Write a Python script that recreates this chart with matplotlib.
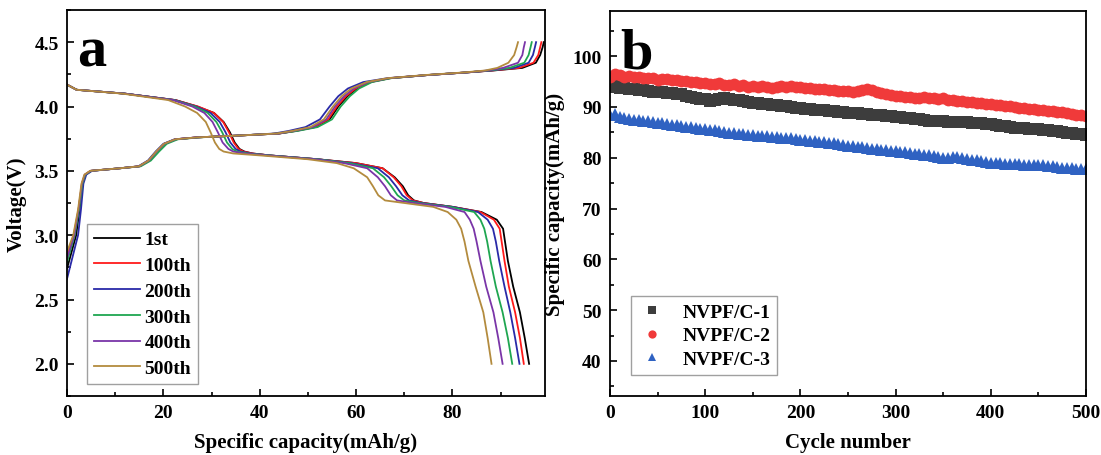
import matplotlib
matplotlib.use("Agg")
import matplotlib.pyplot as plt
from matplotlib.ticker import MultipleLocator, FormatStrFormatter

plt.rcParams['font.family'] = ['Liberation Serif', 'DejaVu Serif']
plt.rcParams['font.weight'] = 'bold'

# ---------------- Panel a data ----------------
CYCLE_LABELS = ['1st', '100th', '200th', '300th', '400th', '500th']
CYCLE_COLORS = ['#000000', '#ff1a1a', '#2a2aa8', '#1fa650', '#7a35a8', '#b38b3e']

# charge: start voltage per cycle + shared voltage grid
CHG_V0 = [2.74, 2.84, 2.66, 2.79, 2.82, 2.87]
CHG_V = [3.00, 3.20, 3.40, 3.47, 3.50, 3.52, 3.535, 3.58, 3.65, 3.71, 3.745, 3.76,
         3.775, 3.79, 3.81, 3.84, 3.90, 4.00, 4.08, 4.14, 4.19, 4.22, 4.245, 4.265,
         4.28, 4.30, 4.34, 4.40, 4.46, 4.50]
CHG_CAP_1 = [0, 1.9, 2.6, 3.2, 3.8, 5.0, 11.0, 15.0, 17.0, 18.6, 20.2, 22.5, 27.0, 36.0, 44.0,
             47.5, 51.5, 54.5, 56.3, 58.2, 60.2, 63.0, 67.0, 75.0, 83.0, 88.5, 94.5, 97.3, 98.2, 98.7, 98.95]
CHG_CAP_100 = [0, 1.4, 2.4, 3.1, 3.7, 4.9, 11.0, 15.0, 17.0, 18.6, 20.2, 22.5, 27.0, 36.0, 44.0,
               47.3, 51.3, 54.2, 56.0, 57.9, 59.9, 62.8, 67.0, 75.0, 83.0, 88.3, 93.8, 96.8, 97.8, 98.2, 98.45]
CHG_CAP_200 = [0, 2.3, 2.9, 3.4, 4.0, 5.2, 11.0, 14.8, 16.8, 18.4, 20.0, 22.3, 27.0, 36.0, 43.0,
               46.0, 49.5, 52.5, 54.5, 56.3, 58.3, 61.5, 66.5, 75.0, 83.0, 88.0, 92.8, 95.8, 96.7, 97.1, 97.35]
CHG_CAP_300 = [0, 1.6, 2.5, 3.2, 3.8, 5.0, 11.0, 15.3, 17.4, 19.1, 20.7, 23.0, 27.5, 36.0, 44.0,
               47.8, 52.0, 55.0, 56.8, 58.7, 60.6, 63.3, 67.3, 75.0, 83.0, 87.7, 91.8, 94.9, 95.8, 96.2, 96.45]
CHG_CAP_400 = [0, 1.5, 2.4, 3.1, 3.7, 4.9, 11.0, 15.0, 17.0, 18.6, 20.2, 22.5, 27.0, 36.0, 44.0,
               47.0, 51.0, 53.8, 55.6, 57.5, 59.5, 62.5, 66.8, 75.0, 83.0, 87.3, 90.5, 93.6, 94.5, 94.8, 95.05]
CHG_CAP_500 = [0, 1.3, 2.3, 3.0, 3.6, 4.8, 11.0, 14.9, 16.9, 18.5, 20.1, 22.4, 27.0, 36.0, 43.5,
               46.7, 50.5, 53.3, 55.2, 57.0, 59.0, 62.2, 66.5, 74.5, 82.5, 86.8, 89.3, 91.6, 92.8, 93.3, 93.6]

# discharge: shared voltage grid
DIS_V = [4.17, 4.13, 4.10, 4.05, 4.00, 3.95, 3.88, 3.80, 3.72, 3.67, 3.65, 3.635, 3.62, 3.59, 3.56,
         3.52, 3.45, 3.38, 3.31, 3.27, 3.25, 3.22, 3.18, 3.12, 3.05, 2.95, 2.80, 2.60, 2.40, 2.20, 2.00]
DIS_CAP_1 = [0, 2, 12, 22.5, 27, 30.5, 32.5, 33.8, 34.8, 35.8, 36.8, 38.5, 42, 52, 60, 65.5, 68, 69.7,
             70.8, 72, 74, 80, 86, 89.2, 90.5, 90.9, 91.5, 92.6, 94.0, 95.0, 95.9]
DIS_CAP_100 = [0, 2, 12, 22.5, 27.2, 30.5, 32.4, 33.6, 34.6, 35.6, 36.6, 38.5, 42, 52, 60, 65.5, 67.8,
               69.4, 70.5, 71.8, 74, 80, 85.8, 88.6, 89.8, 90.2, 90.8, 91.7, 93.0, 94.0, 94.8]
DIS_CAP_200 = [0, 2, 12, 22.3, 26.8, 29.8, 31.7, 32.9, 33.9, 35.0, 36.0, 38.0, 42, 52, 59, 64.5, 66.8,
               68.3, 69.6, 71, 73.5, 80, 85.3, 87.3, 88.4, 89.0, 89.7, 90.8, 92.0, 93.0, 93.9]
DIS_CAP_300 = [0, 2, 12, 22.2, 26.5, 29.2, 31.0, 32.2, 33.2, 34.3, 35.3, 37.5, 42, 52, 58.5, 63.5, 65.8,
               67.3, 68.6, 70, 73, 79.5, 84.5, 85.8, 86.6, 87.2, 87.9, 89.0, 90.4, 91.5, 92.4]
DIS_CAP_400 = [0, 2, 12, 22.0, 26, 28.5, 30.2, 31.3, 32.3, 33.5, 34.5, 36.8, 41.5, 51.5, 57.5, 62.3, 64.5,
               66, 67.2, 68.5, 72, 78.5, 82.5, 83.6, 84.4, 85.0, 85.8, 87.0, 88.5, 89.5, 90.4]
DIS_CAP_500 = [0, 2, 11.5, 21, 24.5, 27, 28.8, 29.8, 30.7, 31.6, 32.5, 34.5, 40, 50, 56, 59.5, 62.3,
               63.5, 64.6, 66, 70, 76, 79, 80.8, 81.8, 82.5, 83.3, 84.8, 86.4, 87.3, 88.1]

CHG_CAPS = [CHG_CAP_1, CHG_CAP_100, CHG_CAP_200, CHG_CAP_300, CHG_CAP_400, CHG_CAP_500]
DIS_CAPS = [DIS_CAP_1, DIS_CAP_100, DIS_CAP_200, DIS_CAP_300, DIS_CAP_400, DIS_CAP_500]

# ---------------- Panel b data ----------------
SAMPLE_LABELS = ['NVPF/C-1', 'NVPF/C-2', 'NVPF/C-3']
CYCLES = list(range(0, 501, 5))
CAP_C1 = [93.9, 94.1, 93.8, 93.7, 93.6, 93.5,
          93.3, 93.4, 93.1, 93.0, 92.9,
          92.9, 92.8, 92.7, 92.6, 92.5,
          92.2, 92.0, 91.8, 91.6, 91.5,
          91.2, 91.4, 91.6, 91.7, 91.6,
          91.4, 91.3, 91.1, 91.0, 90.8,
          90.7, 90.6, 90.5, 90.4, 90.3,
          90.2, 90.1, 90.0, 89.9, 89.8,
          89.7, 89.7, 89.5, 89.5, 89.4,
          89.3, 89.2, 89.1, 89.0, 88.9,
          88.8, 88.8, 88.7, 88.6, 88.5,
          88.4, 88.4, 88.3, 88.2, 88.1,
          88.0, 87.9, 87.8, 87.7, 87.6,
          87.4, 87.3, 87.2, 87.2, 87.2,
          87.1, 87.1, 87.0, 87.0, 87.0,
          86.9, 86.9, 86.8, 86.7, 86.6,
          86.4, 86.3, 86.2, 86.0, 85.9,
          85.8, 85.8, 85.7, 85.7, 85.6,
          85.5, 85.4, 85.3, 85.2, 85.1,
          84.9, 84.8, 84.7, 84.6, 84.4]
CAP_C2 = [95.9, 96.4, 96.3, 96.0, 96.2, 95.9,
          96.0, 95.8, 95.7, 95.8, 95.4,
          95.5, 95.6, 95.3, 95.4, 95.1,
          95.2, 94.9, 95.0, 94.7, 94.8,
          94.6, 94.5, 94.7, 94.4, 94.4,
          94.5, 94.2, 94.3, 94.0, 94.1,
          93.9, 94.1, 94.0, 93.8, 94.0,
          94.1, 93.9, 94.2, 93.9, 94.0,
          93.7, 93.8, 93.5, 93.6, 93.5,
          93.3, 93.4, 93.1, 93.2, 93.1,
          93.0, 93.2, 93.3, 93.5, 93.3,
          93.0, 92.7, 92.5, 92.3, 92.1,
          92.2, 91.9, 92.0, 91.8, 91.8,
          91.9, 91.7, 91.8, 91.6, 91.7,
          91.4, 91.3, 91.2, 91.1, 91.0,
          90.9, 90.8, 90.7, 90.6, 90.5,
          90.4, 90.3, 90.2, 90.1, 90.0,
          89.9, 89.8, 89.7, 89.6, 89.5,
          89.4, 89.3, 89.2, 89.1, 89.0,
          88.8, 88.7, 88.5, 88.4, 88.2]
CAP_C3 = [88.4, 88.6, 88.1, 87.9, 87.6, 87.4,
          87.4, 87.3, 87.2, 87.0, 86.9,
          86.8, 86.7, 86.5, 86.4, 86.2,
          86.1, 86.0, 85.9, 85.7, 85.6,
          85.5, 85.4, 85.2, 85.1, 84.9,
          84.8, 84.7, 84.6, 84.5, 84.4,
          84.3, 84.3, 84.2, 84.1, 84.0,
          83.9, 83.8, 83.8, 83.7, 83.6,
          83.5, 83.4, 83.3, 83.2, 83.1,
          83.0, 82.9, 82.7, 82.6, 82.4,
          82.3, 82.2, 82.1, 81.9, 81.8,
          81.7, 81.6, 81.5, 81.4, 81.3,
          81.2, 81.1, 81.0, 80.8, 80.7,
          80.6, 80.5, 80.3, 80.2, 80.0,
          80.0, 80.2, 80.1, 79.9, 79.8,
          79.6, 79.5, 79.3, 79.2, 79.0,
          78.9, 78.9, 78.8, 78.8, 78.7,
          78.7, 78.6, 78.6, 78.6, 78.6,
          78.5, 78.4, 78.3, 78.1, 78.0,
          77.9, 77.9, 77.8, 77.8, 77.7]
SAMPLE_VALUES = [CAP_C1, CAP_C2, CAP_C3]
SAMPLE_COLORS = ['#3d3d3d', '#f03a3a', '#2f62c2']
SAMPLE_MARKERS = ['s', 'o', '^']

# ---------------- Figure ----------------
W, H = 1101, 456
fig = plt.figure(figsize=(W / 100, H / 100), dpi=100)
axA = fig.add_axes([67 / W, (H - 397) / H, 478 / W, 386 / H])
axB = fig.add_axes([610 / W, (H - 397) / H, 476 / W, 385 / H])

TICK_FS = 14
LABEL_FS = 15
LEG_FS = 14

for ax in (axA, axB):
    for s in ax.spines.values():
        s.set_linewidth(1.3)
    ax.tick_params(which='both', direction='in', top=False, right=False,
                   labelsize=TICK_FS, width=1.2)
    ax.tick_params(which='major', length=5, pad=6)
    ax.tick_params(which='minor', length=3)

# Panel a
handles = []
for lab, col, v0, ccap, dcap in zip(CYCLE_LABELS, CYCLE_COLORS, CHG_V0, CHG_CAPS, DIS_CAPS):
    h, = axA.plot(ccap, [v0] + CHG_V, color=col, lw=1.3, label=lab)
    axA.plot(dcap, DIS_V, color=col, lw=1.3)
    handles.append(h)

axA.set_xlim(0, 99.2)
axA.set_ylim(1.75, 4.75)
axA.xaxis.set_major_locator(MultipleLocator(20))
axA.xaxis.set_minor_locator(MultipleLocator(10))
axA.yaxis.set_major_locator(MultipleLocator(0.5))
axA.yaxis.set_minor_locator(MultipleLocator(0.25))
axA.yaxis.set_major_formatter(FormatStrFormatter('%.1f'))
axA.set_xlabel('Specific capacity(mAh/g)', fontsize=LABEL_FS, fontweight='bold', labelpad=8)
axA.set_ylabel('Voltage(V)', fontsize=LABEL_FS, fontweight='bold', labelpad=5)
axA.text(0.021, 0.855, 'a', transform=axA.transAxes, fontsize=42, fontweight='bold',
         va='baseline', ha='left')
legA = axA.legend(handles=handles, loc='lower left', bbox_to_anchor=(20 / 478, 12 / 386),
                  borderaxespad=0, frameon=True, fancybox=False,
                  edgecolor='#888888', handlelength=2.4, handletextpad=0.2,
                  labelspacing=0.42, borderpad=0.35, prop={'weight': 'bold', 'size': LEG_FS})
legA.get_frame().set_linewidth(1.0)

# Panel b
for lab, vals, col, mk in zip(SAMPLE_LABELS, SAMPLE_VALUES, SAMPLE_COLORS, SAMPLE_MARKERS):
    axB.plot(CYCLES, vals, linestyle='none', marker=mk, color=col, markersize=8.5,
             markeredgewidth=0, label=lab)

axB.set_xlim(0, 500)
axB.set_ylim(33.1, 108.9)
axB.xaxis.set_major_locator(MultipleLocator(100))
axB.xaxis.set_minor_locator(MultipleLocator(50))
axB.yaxis.set_major_locator(MultipleLocator(10))
axB.yaxis.set_minor_locator(MultipleLocator(5))
axB.set_xlabel('Cycle number', fontsize=LABEL_FS, fontweight='bold', labelpad=8)
axB.set_ylabel('Specific capacity(mAh/g)', fontsize=LABEL_FS, fontweight='bold', labelpad=5)
axB.text(0.021, 0.852, 'b', transform=axB.transAxes, fontsize=42, fontweight='bold',
         va='baseline', ha='left')
legB = axB.legend(loc='lower left', bbox_to_anchor=(21 / 476, 21 / 385), borderaxespad=0,
                  frameon=True, fancybox=False, edgecolor='#888888', handlelength=1.5,
                  handletextpad=0.8, labelspacing=0.32, borderpad=0.35, markerscale=0.7,
                  prop={'weight': 'bold', 'size': LEG_FS})
legB.get_frame().set_linewidth(1.0)

fig.savefig('out.png', dpi=100)
